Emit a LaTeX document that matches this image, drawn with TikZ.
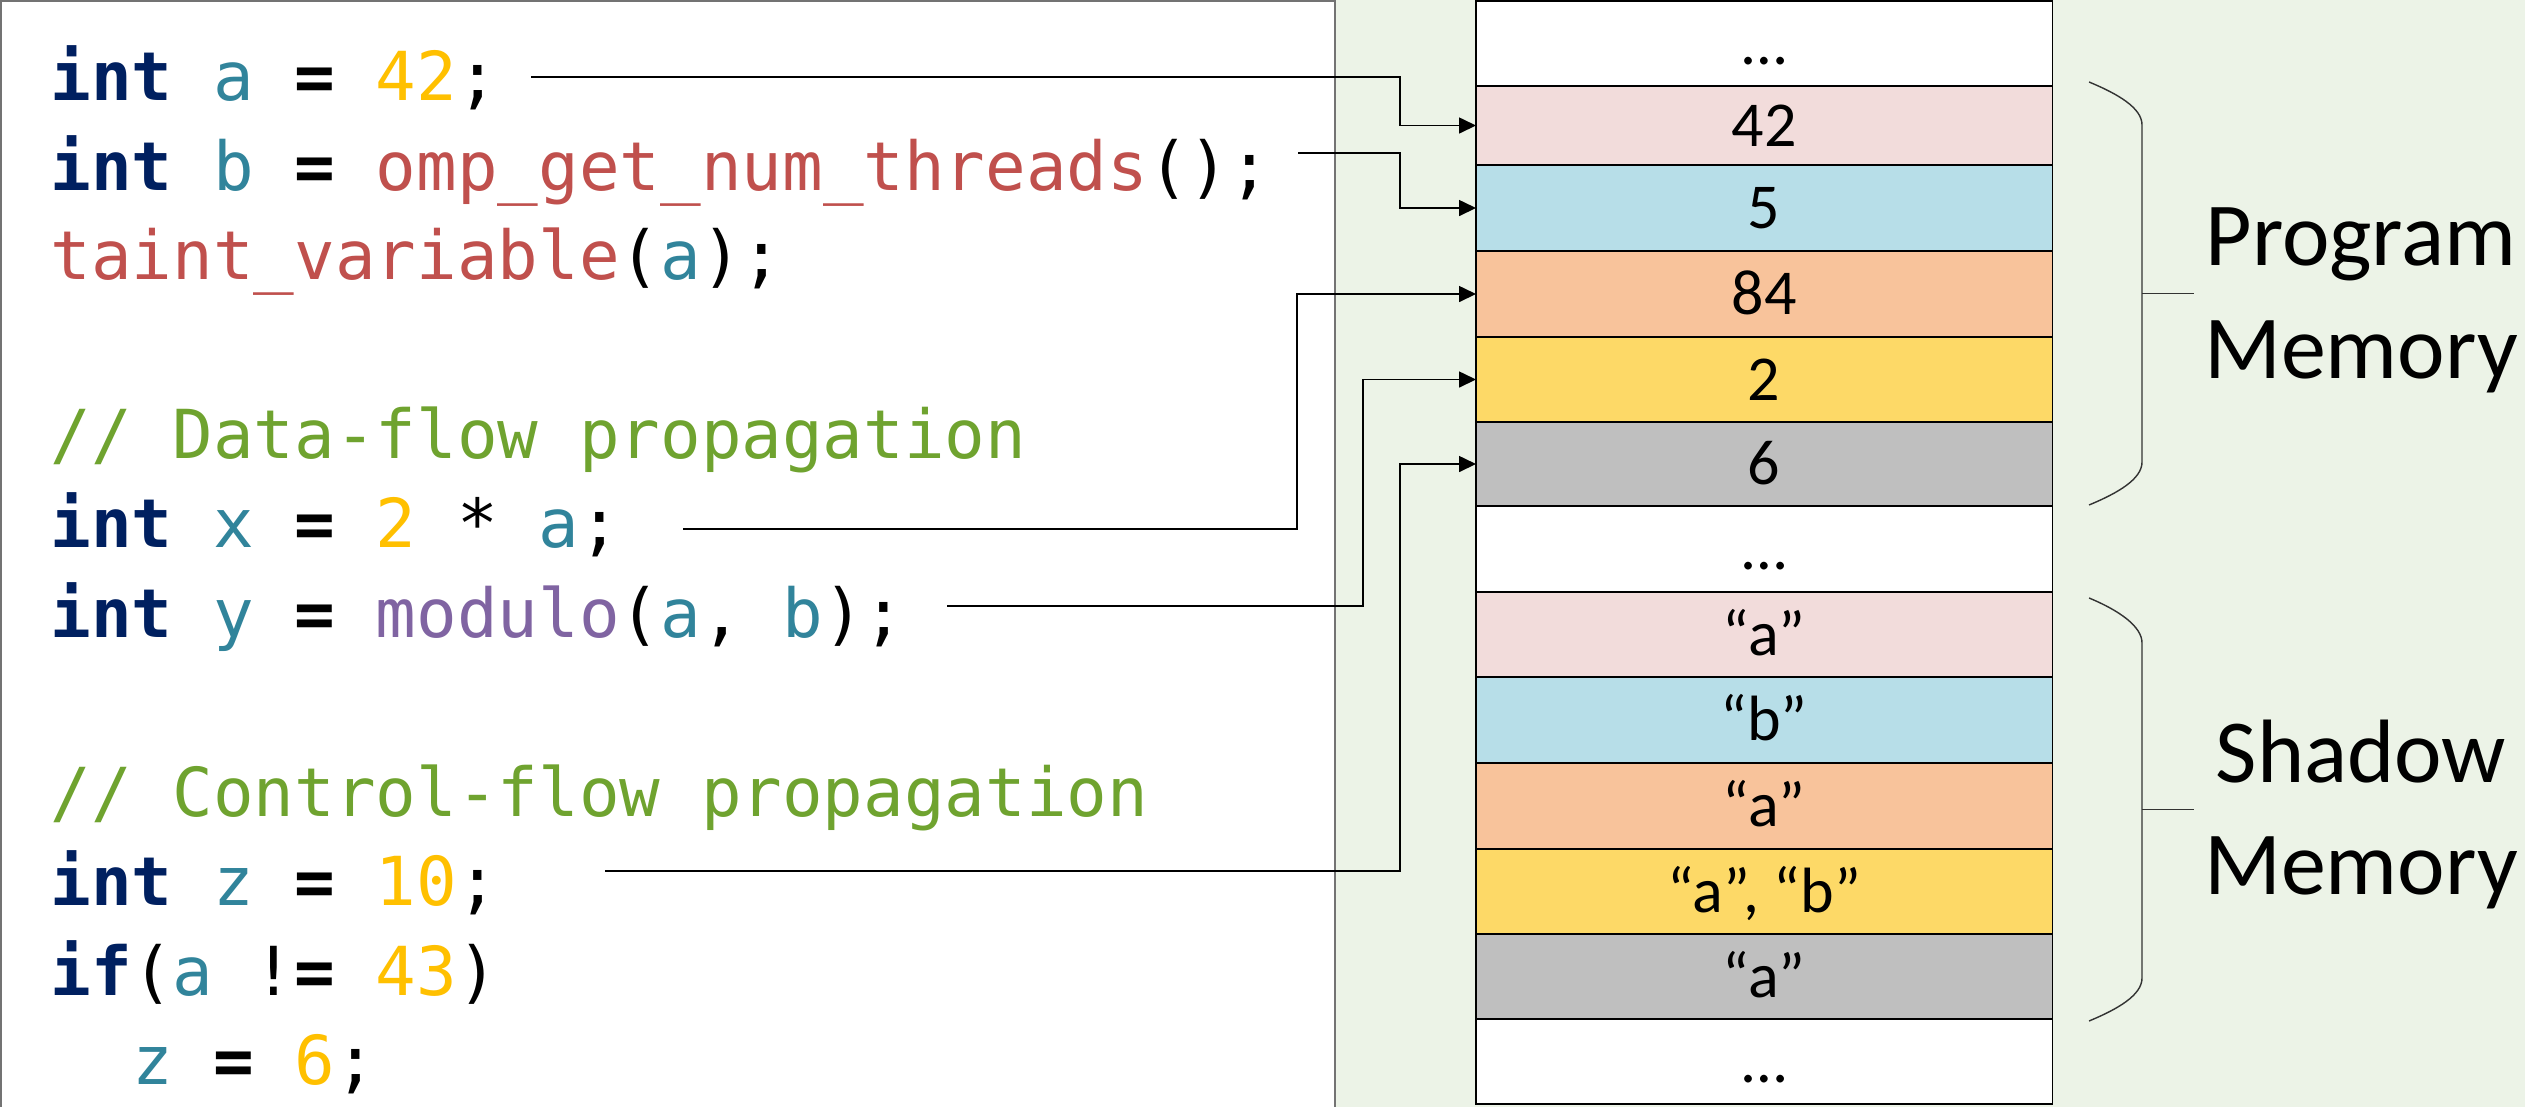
\documentclass[tikz,border=0pt]{standalone}
\usepackage{fontspec}
\setmainfont{Carlito}
\newfontfamily\codefont{DejaVu Sans Mono}
\usetikzlibrary{arrows.meta}
\definecolor{kwc}{HTML}{002060}
\definecolor{vac}{HTML}{31849B}
\definecolor{nmc}{HTML}{FFC000}
\definecolor{fnc}{HTML}{C0504D}
\definecolor{moc}{HTML}{8064A2}
\definecolor{cmc}{HTML}{6FA32F}
\definecolor{bgc}{HTML}{ECF3E7}
\definecolor{pinkc}{HTML}{F2DCDB}
\definecolor{bluec}{HTML}{B7DEE8}
\definecolor{orangec}{HTML}{F8C39B}
\definecolor{yellowc}{HTML}{FDD967}
\definecolor{greyc}{HTML}{BFBFBF}
\newcommand\ckw[1]{\textcolor{kwc}{\bfseries #1}}
\newcommand\cva[1]{\textcolor{vac}{#1}}
\newcommand\cnm[1]{\textcolor{nmc}{#1}}
\newcommand\cfn[1]{\textcolor{fnc}{#1}}
\newcommand\cmo[1]{\textcolor{moc}{#1}}
\newcommand\ccm[1]{\textcolor{cmc}{#1}}
\newcommand\ceq{\textbf{=}}
\begin{document}
\begin{tikzpicture}[x=0.01cm,y=-0.01cm,
  code/.style={anchor=base west, inner sep=0pt, font=\codefont\fontsize{19.2}{23}\selectfont},
  cell/.style={draw=black, line width=0.35pt, anchor=north west, minimum width=5.76cm, inner sep=0pt, outer sep=0pt, font=\fontsize{18.2}{22}\selectfont, text height=0.41cm, text depth=0pt},
  lab/.style={anchor=base, inner sep=0pt, font=\fontsize{25.6}{31}\selectfont},
  conn/.style={line width=0.45pt, -{Triangle[length=0.17cm,width=0.16cm]}},
  brace/.style={line width=0.4pt, draw=black!80}]
\useasboundingbox (0,0) rectangle (2525,1107);
\fill[white] (0,0) rectangle (2525,1107);
\fill[bgc] (1335,0) rectangle (2525,1107);
\draw[draw=black!55, line width=0.35pt] (1,1) rectangle (1335,1120);

% code
\node[code] (l1) at (50,101) {\ckw{int} \cva{a} \ceq{} \cnm{42};};
\node[code] (l2) at (50,190.4) {\ckw{int} \cva{b} \ceq{} \cfn{omp\_get\_num\_threads}();};
\node[code] (l3) at (50,279.8) {\cfn{taint\_variable}(\cva{a});};
\node[code] (l5) at (50,458.6) {\ccm{// Data-flow propagation}};
\node[code] (l6) at (50,548) {\ckw{int} \cva{x} \ceq{} \cnm{2} * \cva{a};};
\node[code] (l7) at (50,637.4) {\ckw{int} \cva{y} \ceq{} \cmo{modulo}(\cva{a}, \cva{b});};
\node[code] (l9) at (50,816.2) {\ccm{// Control-flow propagation}};
\node[code] (l10) at (50,905.6) {\ckw{int} \cva{z} \ceq{} \cnm{10};};
\node[code] (l11) at (50,995) {\ckw{if}(\cva{a} !\ceq{} \cnm{43})};
\node[code] (l12) at (50,1084.4) {\phantom{xx}\cva{z} \ceq{} \cnm{6};};

% memory cells
\node[cell, fill=white,   minimum height=0.85cm] (r0)  at (1476,1)    {…};
\node[cell, fill=pinkc,   minimum height=0.79cm] (r1)  at (1476,86)   {42};
\node[cell, fill=bluec,   minimum height=0.86cm] (r2)  at (1476,165)  {5};
\node[cell, fill=orangec, minimum height=0.86cm] (r3)  at (1476,251)  {84};
\node[cell, fill=yellowc, minimum height=0.85cm] (r4)  at (1476,337)  {2};
\node[cell, fill=greyc,   minimum height=0.84cm] (r5)  at (1476,422)  {6};
\node[cell, fill=white,   minimum height=0.86cm] (r6)  at (1476,506)  {…};
\node[cell, fill=pinkc,   minimum height=0.85cm] (r7)  at (1476,592)  {“a”};
\node[cell, fill=bluec,   minimum height=0.86cm] (r8)  at (1476,677)  {“b”};
\node[cell, fill=orangec, minimum height=0.86cm] (r9)  at (1476,763)  {“a”};
\node[cell, fill=yellowc, minimum height=0.85cm] (r10) at (1476,849)  {“a”, “b”};
\node[cell, fill=greyc,   minimum height=0.85cm] (r11) at (1476,934)  {“a”};
\node[cell, fill=white,   minimum height=0.85cm] (r12) at (1476,1019) {…};

% labels
\node[lab] (pm1) at (2361,266) {Program};
\node[lab] (pm2) at (2361,379) {Memory};
\node[lab] (sm1) at (2361,783) {Shadow};
\node[lab] (sm2) at (2361,894) {Memory};

% braces
\draw[brace] (2089,82) .. controls (2118,94) and (2142,108) .. (2142,125) -- (2142,462) .. controls (2142,479) and (2118,493) .. (2089,505);
\draw[brace] (2142,293.5) -- (2194,293.5);
\draw[brace] (2089,598) .. controls (2118,610) and (2142,626) .. (2142,643) -- (2142,978) .. controls (2142,995) and (2118,1009) .. (2089,1021);
\draw[brace] (2142,809.5) -- (2194,809.5);

% connectors
\coordinate (c1) at (531,77);
\coordinate (c2) at (1298,153);
\coordinate (c3) at (683,529);
\coordinate (c4) at (947,606);
\coordinate (c5) at (605,871);
\coordinate (v1) at (1400,0);
\coordinate (v3) at (1297,0);
\coordinate (v4) at (1363,0);
\draw[conn] (c1) -- (c1 -| v1) |- (r1.west);
\draw[conn] (c2) -- (c2 -| v1) |- (r2.west);
\draw[conn] (c3) -- (c3 -| v3) |- (r3.west);
\draw[conn] (c4) -- (c4 -| v4) |- (r4.west);
\draw[conn] (c5) -- (c5 -| v1) |- (r5.west);
\end{tikzpicture}
\end{document}
